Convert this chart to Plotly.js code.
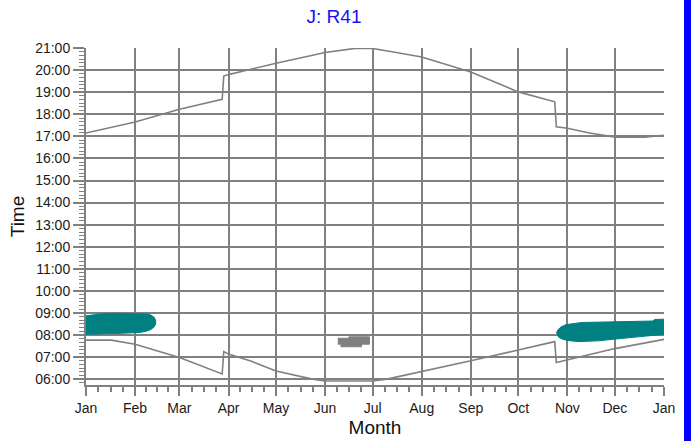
<!DOCTYPE html>
<html>
<head>
<meta charset="utf-8">
<script src="https://cdn.plot.ly/plotly-3.0.1.min.js"></script>
<style>
  html, body { margin: 0; padding: 0; background: #ffffff; }
  #chart { width: 691px; height: 441px; position: absolute; left: 0; top: 0; }
  #bar { position: absolute; left: 684px; top: 0; width: 7px; height: 441px; background: #0000ff; }
</style>
</head>
<body>
<div id="chart"></div>
<div id="bar"></div>
<script>
// ---- data ----
const DAY = '2000-01-01 ';
const monthTicks = ['2015-01-01','2015-02-01','2015-03-01','2015-04-01','2015-05-01','2015-06-01',
  '2015-07-01','2015-08-01','2015-09-01','2015-10-01','2015-11-01','2015-12-01','2016-01-01'];
const monthLabels = ['Jan','Feb','Mar','Apr','May','Jun','Jul','Aug','Sep','Oct','Nov','Dec','Jan'];

const sunsetDates = ['2015-01-01','2015-01-15','2015-02-01','2015-03-01','2015-03-28','2015-03-29','2015-04-01',
  '2015-05-01','2015-06-01','2015-06-21','2015-07-01','2015-07-15','2015-08-01','2015-09-01','2015-10-01',
  '2015-10-24','2015-10-25','2015-11-01','2015-11-15','2015-12-01','2015-12-20','2016-01-01'];
const sunsetTimes = ['17:09','17:22','17:39','18:14','18:41','19:44','19:48',
  '20:19','20:48','21:00','20:59','20:49','20:36','19:55','19:01',
  '18:34','17:26','17:22','17:09','16:58','16:58','17:03'];

const sunriseDates = ['2015-01-01','2015-01-17','2015-02-01','2015-03-01','2015-03-28','2015-03-29','2015-04-01',
  '2015-04-15','2015-05-01','2015-05-24','2015-06-01','2015-07-01','2015-07-10','2015-08-01','2015-09-01',
  '2015-10-01','2015-10-24','2015-10-25','2015-11-01','2015-12-01','2016-01-01'];
const sunriseTimes = ['07:46','07:46','07:35','06:59','06:14','07:15','07:08',
  '06:49','06:22','06:00','05:55','05:55','06:00','06:20','06:50',
  '07:19','07:42','06:45','06:52','07:23','07:48'];

const winterBlobDates = ['2015-01-01','2015-01-05','2015-01-10','2015-01-18','2015-02-05','2015-02-09','2015-02-11',
  '2015-02-13','2015-02-14','2015-02-14','2015-02-13','2015-02-11','2015-02-08','2015-02-04','2015-01-20','2015-01-01'];
const winterBlobTimes = ['08:52','08:55','08:57','08:59','08:59','08:57','08:54',
  '08:48','08:40','08:30','08:22','08:15','08:10','08:07','08:04','08:02'];

const lateBlobDates = ['2015-10-25','2015-10-26','2015-10-28','2015-10-31','2015-11-10','2015-12-02','2015-12-25',
  '2015-12-26','2016-01-01','2016-01-01','2015-12-20','2015-12-02','2015-11-20','2015-11-08','2015-11-01',
  '2015-10-28','2015-10-26'];
const lateBlobTimes = ['08:05','08:14','08:22','08:28','08:34','08:36','08:38',
  '08:42','08:43','08:02','07:57','07:51','07:44','07:42','07:45',
  '07:50','07:56'];

const summerBlobDates = ['2015-06-09','2015-06-16','2015-06-16','2015-06-29','2015-06-29','2015-06-24','2015-06-24',
  '2015-06-11','2015-06-11','2015-06-09'];
const summerBlobTimes = ['07:51','07:51','07:55','07:55','07:35','07:35','07:28','07:28','07:35','07:35'];

// ---- build ----
const t = arr => arr.map(s => DAY + s);
const GRAY = '#808080';
const TEAL = '#008080';

const traces = [
  { x: winterBlobDates, y: t(winterBlobTimes), type: 'scatter', mode: 'lines', fill: 'toself',
    fillcolor: TEAL, line: { color: TEAL, width: 1 }, hoverinfo: 'skip' },
  { x: lateBlobDates, y: t(lateBlobTimes), type: 'scatter', mode: 'lines', fill: 'toself',
    fillcolor: TEAL, line: { color: TEAL, width: 1 }, hoverinfo: 'skip' },
  { x: summerBlobDates, y: t(summerBlobTimes), type: 'scatter', mode: 'lines', fill: 'toself',
    fillcolor: GRAY, line: { color: GRAY, width: 1 }, hoverinfo: 'skip' },
  { x: sunsetDates, y: t(sunsetTimes), type: 'scatter', mode: 'lines',
    line: { color: GRAY, width: 1.6 } },
  { x: sunriseDates, y: t(sunriseTimes), type: 'scatter', mode: 'lines',
    line: { color: GRAY, width: 1.6 } }
];

// minor x ticks at quarter months
const minorX = [];
for (let m = 0; m < 12; m++) {
  const a = new Date(Date.UTC(2015, m, 1)).getTime();
  const b = new Date(Date.UTC(2015, m + 1, 1)).getTime();
  for (let k = 1; k < 4; k++) {
    minorX.push(new Date(a + (b - a) * k / 4).toISOString().slice(0, 19).replace('T', ' '));
  }
}
const hourTicks = [];
const hourLabels = [];
for (let h = 6; h <= 21; h++) {
  const hh = (h < 10 ? '0' : '') + h + ':00';
  hourTicks.push(DAY + hh);
  hourLabels.push(hh);
}

const FONT = 'Liberation Sans, Arial, sans-serif';
const layout = {
  width: 691, height: 441,
  margin: { l: 86, r: 27, t: 48, b: 56 },
  paper_bgcolor: '#ffffff', plot_bgcolor: '#ffffff',
  showlegend: false,
  font: { family: FONT, size: 14, color: '#1a1a1a' },
  title: { text: 'J: R41', font: { family: FONT, size: 19, color: '#1414f0' },
    x: 0.4834, xanchor: 'center', y: 0.962, yanchor: 'middle' },
  xaxis: {
    type: 'date', range: ['2015-01-01', '2016-01-01'],
    tickmode: 'array', tickvals: monthTicks, ticktext: monthLabels,
    ticks: 'outside', ticklen: 9, tickwidth: 2, tickcolor: GRAY,
    showgrid: true, gridcolor: GRAY, gridwidth: 2,
    showline: true, linecolor: GRAY, linewidth: 2, mirror: false,
    zeroline: false,
    tickfont: { family: FONT, size: 14, color: '#1a1a1a' },
    title: { text: 'Month', font: { family: FONT, size: 19, color: '#111111' }, standoff: 6 },
    minor: { tickmode: 'array', tickvals: minorX, ticks: 'outside', ticklen: 5, tickwidth: 2, tickcolor: GRAY, showgrid: false }
  },
  yaxis: {
    type: 'date', range: [DAY + '05:44', DAY + '21:00:20'],
    tickmode: 'array', tickvals: hourTicks, ticktext: hourLabels,
    ticks: 'outside', ticklen: 11, tickwidth: 2, tickcolor: GRAY,
    showgrid: true, gridcolor: GRAY, gridwidth: 2,
    showline: true, linecolor: GRAY, linewidth: 2, mirror: false,
    zeroline: false,
    tickfont: { family: FONT, size: 14, color: '#1a1a1a' },
    title: { text: 'Time', font: { family: FONT, size: 19, color: '#111111' }, standoff: 6 },
    minor: { dtick: 600000, tick0: DAY + '06:00', ticks: 'outside', ticklen: 5, tickwidth: 1, tickcolor: GRAY, showgrid: false }
  }
};

Plotly.newPlot('chart', traces, layout, { staticPlot: true, displayModeBar: false });
</script>
</body>
</html>
